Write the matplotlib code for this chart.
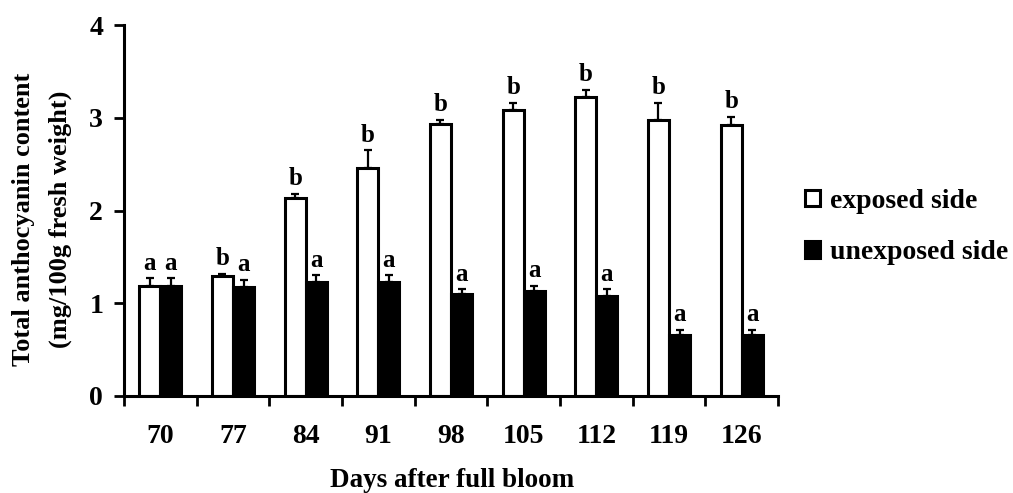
import numpy as np
import matplotlib
matplotlib.use("Agg")
import matplotlib.pyplot as plt

days = ['70', '77', '84', '91', '98', '105', '112', '119', '126']
exposed = [1.19, 1.29, 2.14, 2.46, 2.93, 3.08, 3.23, 2.98, 2.92]
exposed_err = [0.08, 0.03, 0.04, 0.19, 0.05, 0.08, 0.07, 0.18, 0.09]
unexposed = [1.19, 1.18, 1.23, 1.23, 1.10, 1.13, 1.08, 0.66, 0.66]
unexposed_err = [0.08, 0.07, 0.07, 0.07, 0.05, 0.06, 0.07, 0.05, 0.05]
exposed_letters = ['a', 'b', 'b', 'b', 'b', 'b', 'b', 'b', 'b']
unexposed_letters = ['a', 'a', 'a', 'a', 'a', 'a', 'a', 'a', 'a']

plt.rcParams['font.family'] = 'Liberation Serif'
plt.rcParams['font.weight'] = 'bold'

fig = plt.figure(figsize=(10.13, 4.93), dpi=100)
ax = fig.add_axes([0.1224, 0.1968, 0.768 - 0.1224, 0.949 - 0.1968])

x = np.arange(len(days))
w = 0.29
lw = 2.2
ax.bar(x - w / 2, exposed, w, color='white', edgecolor='black', linewidth=lw,
       yerr=[np.zeros(len(x)), exposed_err], capsize=3.2,
       error_kw=dict(elinewidth=1.6, capthick=1.6), label='exposed side')
ax.bar(x + w / 2, unexposed, w, color='black', edgecolor='black', linewidth=lw,
       yerr=[np.zeros(len(x)), unexposed_err], capsize=3.2,
       error_kw=dict(elinewidth=1.6, capthick=1.6), label='unexposed side')

for i in range(len(x)):
    ax.text(x[i] - w / 2, exposed[i] + exposed_err[i] + 0.04, exposed_letters[i],
            ha='center', va='bottom', fontsize=18, fontweight='bold')
    ax.text(x[i] + w / 2, unexposed[i] + unexposed_err[i] + 0.04, unexposed_letters[i],
            ha='center', va='bottom', fontsize=18, fontweight='bold')

ax.set_xlim(-0.5, len(days) - 0.5)
ax.set_ylim(0, 4)
ax.set_yticks([0, 1, 2, 3, 4])
ax.set_xticks(np.arange(-0.5, len(days)))
ax.set_xticklabels([])
ax.set_xticks(x, minor=True)
ax.set_xticklabels(days, minor=True)
ax.tick_params(axis='x', which='major', direction='out', length=7, width=2)
ax.tick_params(axis='x', which='minor', length=0, pad=20, labelsize=20)
ax.tick_params(axis='y', direction='out', length=7, width=2, labelsize=20, pad=8)

for s in ['top', 'right']:
    ax.spines[s].set_visible(False)
for s in ['left', 'bottom']:
    ax.spines[s].set_linewidth(2.2)

# axis titles placed by hand
fig.text(452 / 1013, 1 - 487 / 493, 'Days after full bloom', ha='center',
         va='baseline', fontsize=19.5, fontweight='bold')
fig.text(42 / 1013, 1 - 219 / 493, 'Total anthocyanin content\n(mg/100g fresh weight)',
         rotation=90, ha='center', va='center', fontsize=19, fontweight='bold',
         linespacing=1.7)

h, l = ax.get_legend_handles_labels()
fig.legend(h, l, loc='center left', bbox_to_anchor=(805 / 1013, 1 - 227 / 493),
           frameon=False, fontsize=20, handlelength=0.55, handleheight=0.55,
           handletextpad=0.36, labelspacing=0.95, borderpad=0, borderaxespad=0)

fig.savefig('out.png', dpi=100)
